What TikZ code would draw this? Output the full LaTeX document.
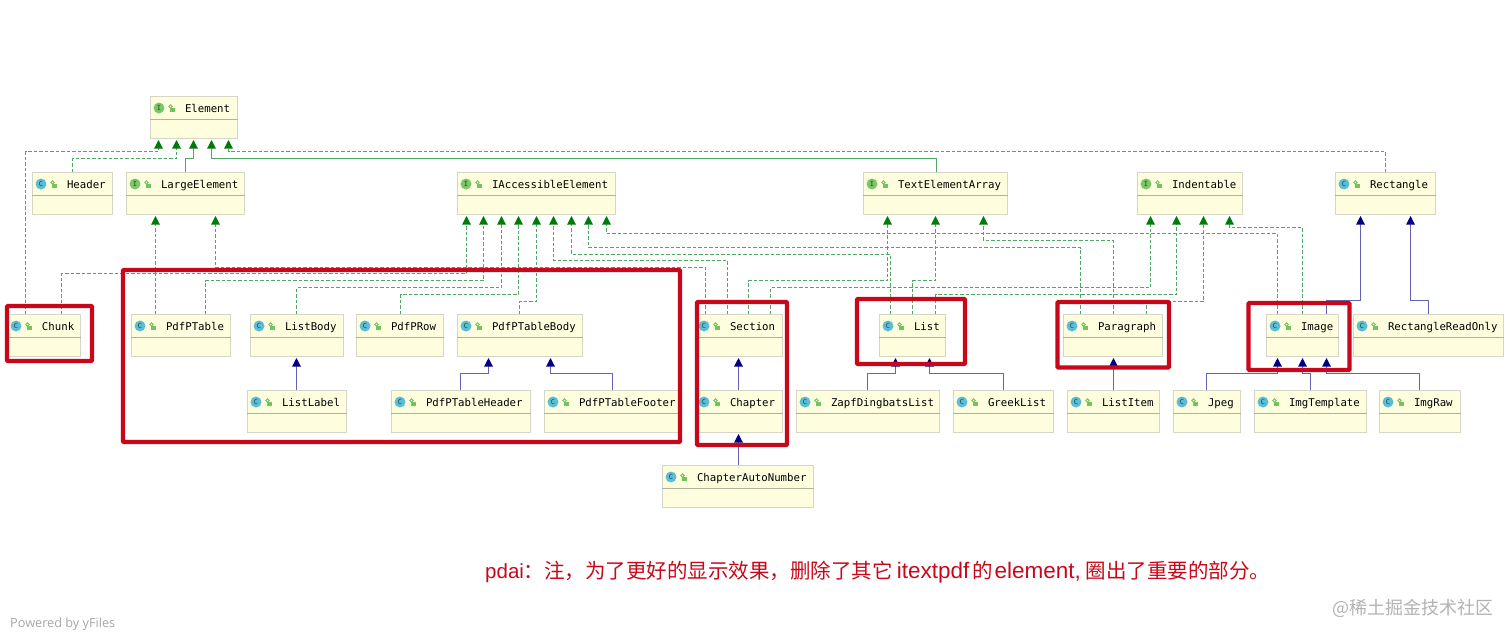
\documentclass[tikz,border=0pt]{standalone}
\usepackage{fontspec}
\setmainfont{Liberation Sans}
\newfontfamily\cjkfont{Noto Sans CJK SC}
\newfontfamily\umlfont{DejaVu Sans Mono}
\newfontfamily\yfont{Open Sans}
\usetikzlibrary{arrows.meta,positioning}
\definecolor{boxfill}{HTML}{FEFEDF}
\definecolor{boxedge}{HTML}{D6D6C6}
\definecolor{boxrule}{HTML}{B2B29A}
\definecolor{linkgreen}{HTML}{4FA865}
\definecolor{tipgreen}{HTML}{007A0A}
\definecolor{linknavy}{HTML}{6464B4}
\definecolor{tipnavy}{HTML}{000080}
\definecolor{framered}{HTML}{C8081A}
\definecolor{classteal}{HTML}{5BBDD6}
\definecolor{ifacegreen}{HTML}{7CC768}
\definecolor{lockgreen}{HTML}{72C45F}
\tikzset{
    umlbox/.style={draw=boxedge, line width=1pt, fill=boxfill, anchor=north west, inner sep=0pt, align=left,
        font=\umlfont\fontsize{10.7}{12}\selectfont, text height=15.5pt, text depth=26.5pt},
    kindc/.style={circle, fill=classteal, text=black!65!classteal, inner sep=0pt, minimum size=11pt, font=\umlfont\fontsize{7}{8}\selectfont},
    kindi/.style={circle, fill=ifacegreen, text=black!65!ifacegreen, inner sep=0pt, minimum size=11pt, font=\umlfont\fontsize{7}{8}\selectfont},
    lockbody/.style={fill=lockgreen, inner sep=0pt, minimum width=5pt, minimum height=4pt},
    lockring/.style={circle, draw=lockgreen, line width=.8pt, inner sep=0pt, minimum size=3.5pt},
    boxrule/.style={draw=boxrule, line width=1pt},
    realize/.style={draw=linkgreen, line width=1.1pt, dash pattern=on 3.5pt off 2pt, shorten >=1pt,
        -{Triangle[length=8.5pt,width=8.5pt,color=tipgreen,fill=tipgreen]}},
    realsolid/.style={draw=linkgreen, line width=1.1pt, shorten >=1pt,
        -{Triangle[length=8.5pt,width=8.5pt,color=tipgreen,fill=tipgreen]}},
    extend/.style={draw=linknavy, line width=1.1pt, shorten >=1pt,
        -{Triangle[length=8.5pt,width=8.5pt,color=tipnavy,fill=tipnavy]}},
    redframe/.style={draw=framered, line width=4.2pt, rounded corners=.8pt},
}
% id, c or i, left, top, width, label
\newcommand{\umlclass}[6]{%
  \node[umlbox, text width=#5pt] (#1) at (#3,#4) {\hspace*{34.5pt}#6};
  \draw[boxrule] ([yshift=-23pt]#1.north west) -- ([yshift=-23pt]#1.north east);
  \node[kind#2] (#1-kind) at ([shift={(9,12)}]#1.north west) {\MakeUppercase{#2}};
  \node[lockring] (#1-ring) at ([shift={(20.5,10.5)}]#1.north west) {};
  \node[lockbody] (#1-lock) at ([shift={(22.5,13.5)}]#1.north west) {};
}

\begin{document}
\begin{tikzpicture}[x=1pt, y=-1pt]
\useasboundingbox (0,0) rectangle (1512,638);

% first rows
\umlclass{element}{i}{150}{96}{87}{Element}
\umlclass{header}{c}{32}{172}{80}{Header}
\umlclass{largeelement}{i}{126}{172}{118}{LargeElement}
\umlclass{iaccessible}{i}{457}{172}{158}{IAccessibleElement}
\umlclass{textarray}{i}{863}{172}{144}{TextElementArray}
\umlclass{indentable}{i}{1137}{172}{105}{Indentable}
\umlclass{rectangle}{c}{1335}{172}{100}{Rectangle}

\umlclass{chunk}{c}{7}{314}{73}{Chunk}
\umlclass{pdfptable}{c}{131}{314}{99}{PdfPTable}
\umlclass{listbody}{c}{250}{314}{93}{ListBody}
\umlclass{pdfprow}{c}{356}{314}{87}{PdfPRow}
\umlclass{tablebody}{c}{457}{314}{125}{PdfPTableBody}
\umlclass{section}{c}{695}{314}{87}{Section}
\umlclass{list}{c}{879}{314}{66}{List}
\umlclass{paragraph}{c}{1063}{314}{99}{Paragraph}
\umlclass{image}{c}{1266}{314}{72}{Image}
\umlclass{rectreadonly}{c}{1353}{314}{150}{RectangleReadOnly}

\umlclass{listlabel}{c}{247}{390}{99}{ListLabel}
\umlclass{tableheader}{c}{391}{390}{139}{PdfPTableHeader}
\umlclass{tablefooter}{c}{544}{390}{136}{PdfPTableFooter}
\umlclass{chapter}{c}{695}{390}{87}{Chapter}
\umlclass{zapflist}{c}{796}{390}{143}{ZapfDingbatsList}
\umlclass{greeklist}{c}{953}{390}{100}{GreekList}
\umlclass{listitem}{c}{1067}{390}{92}{ListItem}
\umlclass{jpeg}{c}{1173}{390}{67}{Jpeg}
\umlclass{imgtemplate}{c}{1254}{390}{112}{ImgTemplate}
\umlclass{imgraw}{c}{1379}{390}{81}{ImgRaw}
\umlclass{autonumber}{c}{662}{465}{151}{ChapterAutoNumber}

% into Element
\draw[realize] (25.5,0 |- chunk.north) |- (158.5,151.5) -- (158.5,0 |- element.south);
\draw[realize] (72.5,0 |- header.north) |- (176.5,158.5) -- (176.5,0 |- element.south);
\draw[realsolid] (185.5,0 |- largeelement.north) |- (193.5,158.5) -- (193.5,0 |- element.south);
\draw[realsolid] (936.5,0 |- textarray.north) |- (211.5,158.5) -- (211.5,0 |- element.south);
\draw[realize] (1385.5,0 |- rectangle.north) |- (228.5,151.5) -- (228.5,0 |- element.south);

% into LargeElement
\draw[realize] (155.5,0 |- pdfptable.north) -- (155.5,0 |- largeelement.south);
\draw[realize] (705.5,0 |- section.north) |- (215.5,267.5) -- (215.5,0 |- largeelement.south);

% into IAccessibleElement
\draw[realize] (61.5,0 |- chunk.north) |- (466.5,273.5) -- (466.5,0 |- iaccessible.south);
\draw[realize] (205.5,0 |- pdfptable.north) |- (483.5,280.5) -- (483.5,0 |- iaccessible.south);
\draw[realize] (296.5,0 |- listbody.north) |- (501.5,287.5) -- (501.5,0 |- iaccessible.south);
\draw[realize] (400.5,0 |- pdfprow.north) |- (518.5,294.5) -- (518.5,0 |- iaccessible.south);
\draw[realize] (519.5,0 |- tablebody.north) |- (536.5,301.5) -- (536.5,0 |- iaccessible.south);
\draw[realize] (727.5,0 |- section.north) |- (553.5,260.5) -- (553.5,0 |- iaccessible.south);
\draw[realize] (890.5,0 |- list.north) |- (571.5,254.5) -- (571.5,0 |- iaccessible.south);
\draw[realize] (1080.5,0 |- paragraph.north) |- (588.5,247.5) -- (588.5,0 |- iaccessible.south);
\draw[realize] (1277.5,0 |- image.north) |- (606.5,233.5) -- (606.5,0 |- iaccessible.south);

% into TextElementArray
\draw[realize] (748.5,0 |- section.north) |- (887.5,280.5) -- (887.5,0 |- textarray.south);
\draw[realize] (912.5,0 |- list.north) |- (935.5,280.5) -- (935.5,0 |- textarray.south);
\draw[realize] (1113.5,0 |- paragraph.north) |- (983.5,240.5) -- (983.5,0 |- textarray.south);

% into Indentable
\draw[realize] (770.5,0 |- section.north) |- (1150.5,287.5) -- (1150.5,0 |- indentable.south);
\draw[realize] (935.5,0 |- list.north) |- (1176.5,294.5) -- (1176.5,0 |- indentable.south);
\draw[realize] (1146.5,0 |- paragraph.north) |- (1203.5,301.5) -- (1203.5,0 |- indentable.south);
\draw[realize] (1302.5,0 |- image.north) |- (1229.5,227.5) -- (1229.5,0 |- indentable.south);

% class inheritance
\draw[extend] (1326.5,0 |- image.north) |- (1360.5,300.5) -- (1360.5,0 |- rectangle.south);
\draw[extend] (1428.5,0 |- rectreadonly.north) |- (1410.5,300.5) -- (1410.5,0 |- rectangle.south);
\draw[extend] (296.5,0 |- listlabel.north) -- (296.5,0 |- listbody.south);
\draw[extend] (460.5,0 |- tableheader.north) |- (488.5,373.5) -- (488.5,0 |- tablebody.south);
\draw[extend] (612.5,0 |- tablefooter.north) |- (550.5,373.5) -- (550.5,0 |- tablebody.south);
\draw[extend] (738.5,0 |- chapter.north) -- (738.5,0 |- section.south);
\draw[extend] (738.5,0 |- autonumber.north) -- (738.5,0 |- chapter.south);
\draw[extend] (867.5,0 |- zapflist.north) |- (895.5,373.5) -- (895.5,0 |- list.south);
\draw[extend] (1003.5,0 |- greeklist.north) |- (929.5,373.5) -- (929.5,0 |- list.south);
\draw[extend] (1113.5,0 |- listitem.north) -- (1113.5,0 |- paragraph.south);
\draw[extend] (1206.5,0 |- jpeg.north) |- (1277.5,373.5) -- (1277.5,0 |- image.south);
\draw[extend] (1310.5,0 |- imgtemplate.north) |- (1302.5,373.5) -- (1302.5,0 |- image.south);
\draw[extend] (1419.5,0 |- imgraw.north) |- (1326.5,373.5) -- (1326.5,0 |- image.south);

% red frames
\draw[redframe] (7,306) rectangle (92,361);
\draw[redframe] (123,270) rectangle (680,442);
\draw[redframe] (697,302) rectangle (787,445);
\draw[redframe] (857,299) rectangle (965,364);
\draw[redframe] (1057.5,302) rectangle (1169,367.5);
\draw[redframe] (1248.5,303) rectangle (1349.5,370);

% notes
\node[anchor=west, inner sep=0pt, text=framered, font=\fontsize{20.5}{24}\selectfont] (note) at (485,572)
  {pdai{\cjkfont：注，为了更好的显示效果，删除了其它}\hspace{4pt}{\fontsize{22.5}{24}\selectfont itextpdf}\hspace{3pt}{\cjkfont 的}\hspace{1.5pt}{\fontsize{22.5}{24}\selectfont element,}\hspace{5pt}{\cjkfont 圈出了重要的部分。}};
\node[anchor=west, inner sep=0pt, text=black!30, font=\cjkfont\fontsize{18}{22}\selectfont] (mark) at (1332,608.5) {@稀土掘金技术社区};
\node[anchor=west, inner sep=0pt, text=black!35, font=\yfont\fontsize{12.7}{14}\selectfont] (powered) at (10,624) {Powered by yFiles};
\end{tikzpicture}
\end{document}
